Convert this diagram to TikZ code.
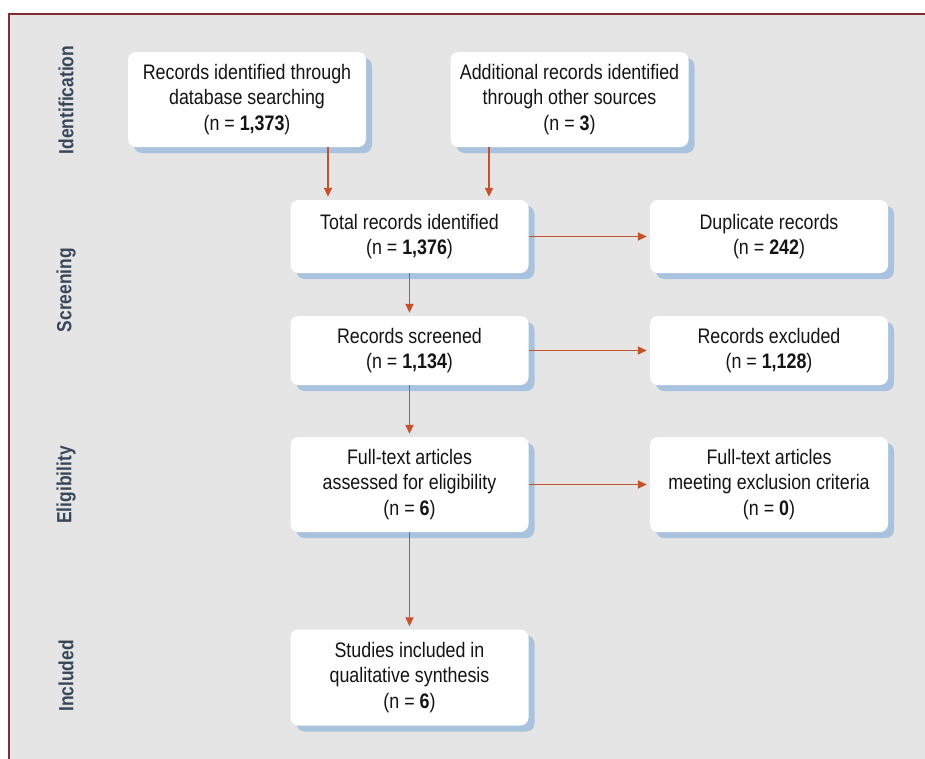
\documentclass[tikz,border=0pt]{standalone}
\usepackage{fontspec}
\setmainfont[FakeStretch=0.85]{Liberation Sans}
\usetikzlibrary{shadows,arrows.meta}
\definecolor{bggray}{HTML}{E5E5E5}
\definecolor{framec}{HTML}{862A33}
\definecolor{boxtext}{HTML}{141414}
\definecolor{arrowc}{HTML}{C4532B}
\definecolor{shadowblue}{HTML}{A9C3DE}
\definecolor{sidec}{HTML}{384659}
\begin{document}
\begin{tikzpicture}[x=1pt,y=-1pt,
  box/.style={draw=none, fill=white, rounded corners=8pt, align=center,
    font=\fontsize{21}{25.5}\selectfont, text=boxtext, inner sep=0pt,
    minimum width=238pt,
    drop shadow={shadow xshift=6pt, shadow yshift=-6pt, fill=shadowblue, opacity=1}},
  arr/.style={draw=arrowc, line width=1.8pt, shorten >=3pt,
    -{Triangle[length=9pt,width=8pt]}},
  side/.style={rotate=90, font=\bfseries\fontsize{20.5}{20.5}\selectfont, text=sidec}]
\useasboundingbox (0,0) rectangle (925,758);
\fill[white] (0,0) rectangle (925,758);
\fill[bggray] (9,14) rectangle (930,765);
\draw[framec, line width=2.5pt] (9,770) -- (9,14) -- (930,14);

% side labels
\node[side] (l1) at (66,100) {Identification};
\node[side] (l2) at (66,290) {Screening};
\node[side] (l3) at (66,485) {Eligibility};
\node[side] (l4) at (66,676) {Included};

% boxes
\node[box, minimum height=95pt] (b1) at (247,99.5)
  {Records identified through\\database searching\\(n = \textbf{1,373})};
\node[box, minimum height=95pt] (b2) at (569.5,99.5)
  {Additional records identified\\through other sources\\(n = \textbf{3})};
\node[box, minimum height=73pt] (b3) at (409.5,236.5)
  {Total records identified\\(n = \textbf{1,376})};
\node[box, minimum height=73pt] (b4) at (769,236.5)
  {Duplicate records\\(n = \textbf{242})};
\node[box, minimum height=69pt] (b5) at (409.5,350.5)
  {Records screened\\(n = \textbf{1,134})};
\node[box, minimum height=69pt] (b6) at (769,350.5)
  {Records excluded\\(n = \textbf{1,128})};
\node[box, minimum height=95pt] (b7) at (409.5,484.5)
  {Full-text articles\\assessed for eligibility\\(n = \textbf{6})};
\node[box, minimum height=95pt] (b8) at (769,484.5)
  {Full-text articles\\meeting exclusion criteria\\(n = \textbf{0})};
\node[box, minimum height=96pt] (b9) at (409.5,677.5)
  {Studies included in\\qualitative synthesis\\(n = \textbf{6})};

% connectors
\coordinate (c1) at (328,0);
\coordinate (c2) at (489,0);
\draw[arr] (b1.south -| c1) -- (b3.north -| c1);
\draw[arr] (b2.south -| c2) -- (b3.north -| c2);
\draw[arr] (b3.east) -- (b4.west);
\draw[arr] (b3.south) -- (b5.north);
\draw[arr] (b5.east) -- (b6.west);
\draw[arr] (b5.south) -- (b7.north);
\draw[arr] (b7.east) -- (b8.west);
\draw[arr] (b7.south) -- (b9.north);
\end{tikzpicture}
\end{document}
